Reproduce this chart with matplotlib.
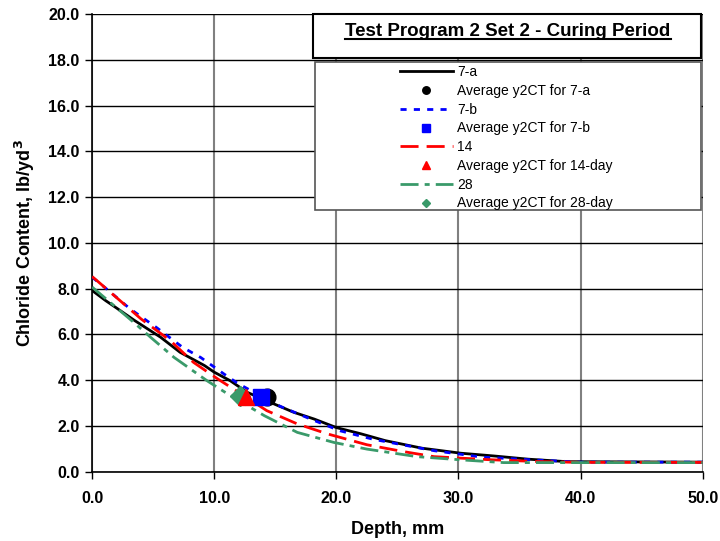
import matplotlib
matplotlib.use("Agg")
import matplotlib.pyplot as plt
from matplotlib.patches import Rectangle
from matplotlib.lines import Line2D

plt.rcParams["font.family"] = ["Liberation Sans", "DejaVu Sans"]

# chloride profiles (depth mm, lb/yd3)
depth_7a = [0, 1.1, 1.9, 3.5, 5.6, 7.2, 9.2, 10.0, 11.3, 12.7, 14.6, 16.5, 18.2,
            20.0, 22.0, 24.0, 27.0, 30.2, 32.9, 35.7, 38.9, 50]
cl_7a = [7.92, 7.48, 7.19, 6.6, 5.88, 5.22, 4.64, 4.35, 3.98, 3.47, 3.03, 2.6, 2.3,
         1.93, 1.66, 1.36, 1.03, 0.81, 0.69, 0.55, 0.44, 0.42]

depth_7b = [0, 1.2, 3.1, 5.3, 7.4, 8.9, 10.8, 11.9, 13.5, 15.4, 17.9, 20.3, 23.0,
            28.0, 31.9, 35.7, 40, 50]
cl_7b = [8.5, 7.98, 7.12, 6.29, 5.44, 4.99, 4.27, 3.87, 3.4, 2.86, 2.3, 1.79, 1.42,
         0.92, 0.64, 0.53, 0.42, 0.42]

depth_14 = [0, 1.2, 4.0, 6.4, 8.3, 10.3, 12.2, 14.3, 16.8, 19.3, 22.5, 25.5, 28.0,
            32.4, 36.3, 40, 50]
cl_14 = [8.53, 7.98, 6.68, 5.73, 4.78, 4.05, 3.4, 2.67, 2.09, 1.65, 1.18, 0.88, 0.66,
         0.53, 0.45, 0.41, 0.41]

depth_28 = [0, 3.4, 4.8, 6.7, 9.4, 11.1, 14.1, 16.8, 19.8, 22.5, 26.6, 30.2, 33.7, 50]
cl_28 = [8.07, 6.53, 5.87, 5.0, 3.98, 3.4, 2.45, 1.72, 1.28, 0.99, 0.66, 0.52, 0.4, 0.4]

# average y2CT points
avg_x = {"7-a": 14.3, "7-b": 13.8, "14": 12.6, "28": 12.1}
avg_y = {"7-a": 3.28, "7-b": 3.28, "14": 3.25, "28": 3.3}

green = "#3a9a6a"

fig = plt.figure(figsize=(7.2, 5.41), dpi=100)
ax = fig.add_axes([0.128, 0.128, 0.848, 0.846])

ax.plot(depth_7a, cl_7a, color="black", lw=2, label="7-a", zorder=3)
ax.plot(avg_x["7-a"], avg_y["7-a"], "o", color="black", ms=12, label="Average y2CT for 7-a", zorder=4)
ax.plot(depth_7b, cl_7b, color="blue", lw=2, dashes=(2.2, 2.6), label="7-b", zorder=3)
ax.plot(avg_x["7-b"], avg_y["7-b"], "s", color="blue", ms=12, label="Average y2CT for 7-b", zorder=5)
ax.plot(depth_14, cl_14, color="red", lw=2, dashes=(6.5, 2.9), label="14", zorder=3)
ax.plot(avg_x["14"], avg_y["14"], "^", color="red", ms=12, label="Average y2CT for 14-day", zorder=5)
ax.plot(depth_28, cl_28, color=green, lw=2, dashes=(6.5, 2.2, 1.8, 2.2), label="28", zorder=3)
ax.plot(avg_x["28"], avg_y["28"], "D", color=green, ms=10, label="Average y2CT for 28-day", zorder=4)

ax.set_xlim(0, 50)
ax.set_ylim(0, 20)
ax.set_xticks(range(0, 51, 10))
ax.set_yticks(range(0, 21, 2))
ax.xaxis.set_major_formatter(matplotlib.ticker.FormatStrFormatter("%.1f"))
ax.yaxis.set_major_formatter(matplotlib.ticker.FormatStrFormatter("%.1f"))
for lab in ax.get_xticklabels() + ax.get_yticklabels():
    lab.set_fontweight("bold")
    lab.set_fontsize(11.5)
ax.tick_params(direction="out", length=5, width=1)
ax.tick_params(axis="y", pad=4)
ax.tick_params(axis="x", pad=9)

ax.spines["top"].set_visible(False)
ax.spines["right"].set_visible(False)
ax.spines["left"].set_linewidth(1.2)
ax.spines["bottom"].set_linewidth(1.2)
ax.yaxis.grid(True, color="black", lw=1)
ax.xaxis.grid(True, color="#808080", lw=1.5)
ax.set_axisbelow(True)

ax.set_xlabel("Depth, mm", fontsize=13, fontweight="bold", labelpad=11)
ax.set_ylabel(r"Chloride Content, lb/yd$^{\mathbf{3}}$", fontsize=13, fontweight="bold", labelpad=8)

# title box
ax.add_patch(Rectangle((0.362, 0.904), 0.636, 0.096, transform=ax.transAxes,
                       facecolor="white", edgecolor="black", lw=1.5, zorder=10, clip_on=False))
title = ax.text(0.681, 0.963, "Test Program 2 Set 2 - Curing Period", transform=ax.transAxes,
                ha="center", va="center", fontsize=13.5, fontweight="bold", zorder=11)

# legend box
ax.add_patch(Rectangle((0.365, 0.572), 0.633, 0.323, transform=ax.transAxes,
                       facecolor="white", edgecolor="#555555", lw=1.2, zorder=10, clip_on=False))
leg = ax.legend(loc="upper left", bbox_to_anchor=(0.504, 0.888), borderaxespad=0,
                borderpad=0, frameon=False, fontsize=10, handlelength=3.8,
                handletextpad=0.3, labelspacing=0.34, markerscale=0.45)
leg.set_zorder(12)

# underline the title
fig.canvas.draw()
bb = title.get_window_extent()
inv = fig.transFigure.inverted()
(x0, y0), (x1, _) = inv.transform([(bb.x0, bb.y0 + 1), (bb.x1, bb.y0 + 1)])
fig.add_artist(Line2D([x0, x1], [y0, y0], color="black", lw=1.5, zorder=12))

fig.savefig("out.png", dpi=100)
